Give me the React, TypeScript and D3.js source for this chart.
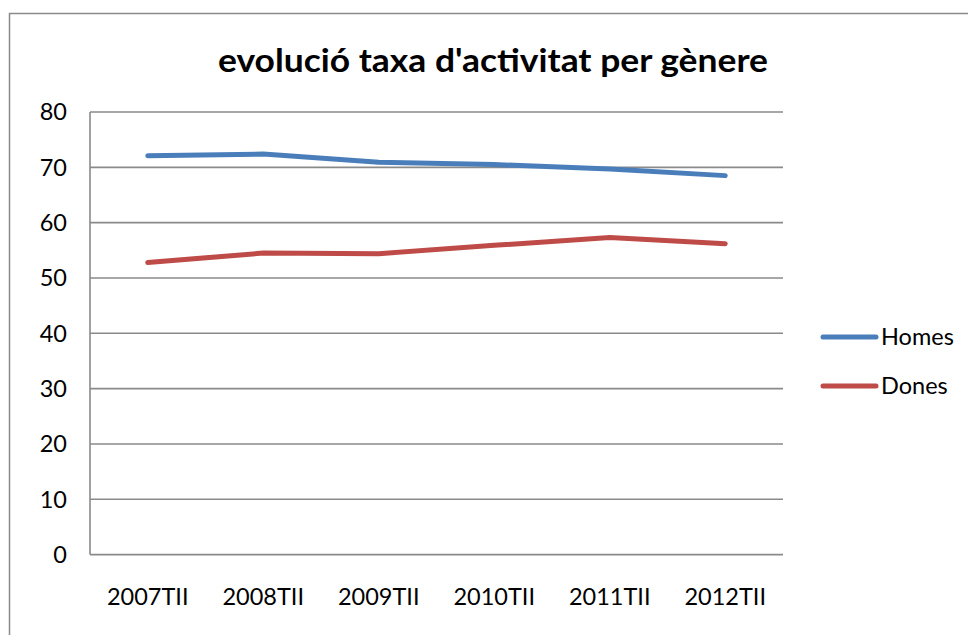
import React from "react";
import * as d3 from "d3";

const categories = ["2007TII", "2008TII", "2009TII", "2010TII", "2011TII", "2012TII"];
const homes = [72.1, 72.4, 70.9, 70.5, 69.7, 68.5];
const dones = [52.8, 54.5, 54.4, 55.9, 57.3, 56.2];
const yTicks = [0, 10, 20, 30, 40, 50, 60, 70, 80];
const seriesNames = ["Homes", "Dones"];
const seriesColors = ["#4A7EBB", "#BE4B48"];

const W = 968;
const H = 635;
const plot = { left: 90, right: 783, top: 112, bottom: 554.6 };
const FONT = "Lato, 'Open Sans', sans-serif";

export default function App() {
  const x = d3.scaleBand<string>().domain(categories).range([plot.left, plot.right]);
  const y = d3.scaleLinear().domain([0, 80]).range([plot.bottom, plot.top]);
  const line = d3
    .line<number>()
    .x((_, i) => (x(categories[i]) as number) + x.bandwidth() / 2)
    .y((d) => y(d));
  const series = [homes, dones];
  const legendY = [337, 386];

  return (
    <svg
      width={W}
      height={H}
      style={{ position: "fixed", top: 0, left: 0, background: "#fff" }}
      fontFamily={FONT}
    >
      <rect x={0} y={0} width={W} height={H} fill="#fff" />
      <rect x={9.5} y={13.5} width={1000} height={700} fill="none" stroke="#8a8a8a" strokeWidth={1.5} />
      <text
        x={493}
        y={72}
        textAnchor="middle"
        fontSize={33}
        fontWeight="bold"
        fill="#000"
        textLength={550}
        lengthAdjust="spacingAndGlyphs"
      >
        evolució taxa d'activitat per gènere
      </text>
      {yTicks.map((t) => (
        <g key={t}>
          <line x1={plot.left} x2={plot.right} y1={y(t)} y2={y(t)} stroke="#8a8a8a" strokeWidth={1.6} />
          <text x={67} y={y(t)} dy="0.36em" textAnchor="end" fontSize={23.5} fill="#000">
            {t}
          </text>
        </g>
      ))}
      <line x1={plot.left} x2={plot.left} y1={plot.top} y2={plot.bottom} stroke="#8a8a8a" strokeWidth={1.6} />
      {categories.map((c) => (
        <text
          key={c}
          x={(x(c) as number) + x.bandwidth() / 2}
          y={605}
          textAnchor="middle"
          fontSize={23.5}
          fill="#000"
        >
          {c}
        </text>
      ))}
      {series.map((s, i) => (
        <path
          key={i}
          d={line(s) as string}
          fill="none"
          stroke={seriesColors[i]}
          strokeWidth={5}
          strokeLinecap="round"
          strokeLinejoin="round"
        />
      ))}
      {seriesNames.map((n, i) => (
        <g key={n}>
          <line
            x1={823}
            x2={876}
            y1={legendY[i]}
            y2={legendY[i]}
            stroke={seriesColors[i]}
            strokeWidth={5}
            strokeLinecap="round"
          />
          <text x={881} y={legendY[i]} dy="0.36em" fontSize={23.5} fill="#000">
            {n}
          </text>
        </g>
      ))}
    </svg>
  );
}
